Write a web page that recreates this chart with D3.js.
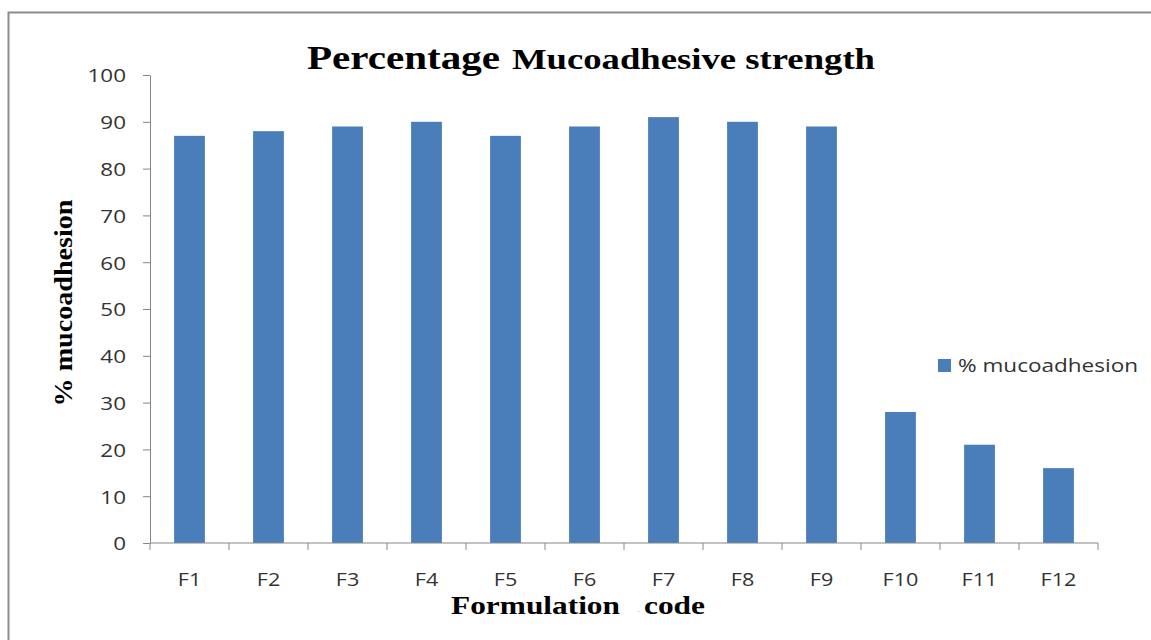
<!DOCTYPE html>
<html><head><meta charset="utf-8">
<script src="https://cdn.jsdelivr.net/npm/d3@7/dist/d3.min.js"></script>
<style>body{margin:0;background:#fff;}svg{display:block;}</style>
</head><body>
<svg id="c" width="1151" height="640"></svg>
<script>
const categories = ["F1","F2","F3","F4","F5","F6","F7","F8","F9","F10","F11","F12"];
const values = [87, 88, 89, 90, 87, 89, 91, 90, 89, 28, 21, 16];
const yTicks = [0,10,20,30,40,50,60,70,80,90,100];
const seriesName = "% mucoadhesion";

const svg = d3.select("#c");
const m = {left:150, right:1098, top:75, bottom:543};
const sans = "'Open Sans', Lato, sans-serif";
const serif = "'Liberation Serif', 'Times New Roman', serif";

function stretch(sel, f) {
  sel.each(function(){
    const L = this.getComputedTextLength();
    d3.select(this).attr("textLength", L*f).attr("lengthAdjust","spacingAndGlyphs");
  });
}

svg.append("rect").attr("x",8.5).attr("y",12.5).attr("width",1200).attr("height",700)
  .attr("fill","#fff").attr("stroke","#8c8c8c").attr("stroke-width",2);

const x = d3.scaleBand().domain(categories).range([m.left,m.right]).paddingInner(0.61).paddingOuter(0.305);
const y = d3.scaleLinear().domain([0,100]).range([m.bottom,m.top]);

svg.selectAll("rect.bar").data(values).join("rect").attr("class","bar")
  .attr("x",(d,i)=>x(categories[i])).attr("width",x.bandwidth())
  .attr("y",d=>y(d)).attr("height",d=>y(0)-y(d)).attr("fill","#4a7ebb");

const yAxis = svg.append("g").attr("transform",`translate(${m.left},0)`)
  .call(d3.axisLeft(y).tickValues(yTicks).tickSize(7).tickPadding(8).tickSizeOuter(0));
const xb = d3.scaleLinear().domain([0,categories.length]).range([m.left,m.right]);
const xAxis = svg.append("g").attr("transform",`translate(0,${m.bottom})`);
xAxis.append("line").attr("x1",m.left).attr("x2",m.right).attr("stroke","#868686");
xAxis.selectAll("line.t").data(d3.range(categories.length+1)).join("line").attr("class","t")
  .attr("x1",d=>xb(d)).attr("x2",d=>xb(d)).attr("y1",0).attr("y2",7).attr("stroke","#868686");
const xl = xAxis.selectAll("text").data(categories).join("text")
  .attr("x",d=>x(d)+x.bandwidth()/2).attr("y",43).attr("text-anchor","middle")
  .attr("font-family",sans).attr("font-size",18).attr("fill","#333")
  .text(d=>d);
stretch(xl, 1.2);

yAxis.select(".domain").attr("stroke","#868686");
yAxis.selectAll(".tick line").attr("stroke","#868686");
const yl = yAxis.selectAll(".tick text").attr("font-family",sans).attr("font-size",19).attr("fill","#333").attr("x",-24).attr("dy","0.36em");
stretch(yl, 1.18);

const t = svg.append("text").attr("y",69)
  .attr("font-family",serif).attr("font-weight","bold").attr("fill","#000");
t.append("tspan").attr("x",307).attr("font-size",34).attr("textLength",193).attr("lengthAdjust","spacingAndGlyphs").text("Percentage");
t.append("tspan").attr("x",512).attr("font-size",29).attr("textLength",363).attr("lengthAdjust","spacingAndGlyphs").text("Mucoadhesive strength");

svg.append("text").attr("transform","translate(72,303) rotate(-90)").attr("text-anchor","middle")
  .attr("font-family",serif).attr("font-weight","bold")
  .attr("font-size",26).attr("fill","#000").attr("textLength",207).attr("lengthAdjust","spacingAndGlyphs").text("% mucoadhesion");

const xt = svg.append("text").attr("y",614).attr("font-family",serif).attr("font-weight","bold").attr("font-size",26).attr("fill","#000");
xt.append("tspan").attr("x",451).attr("textLength",169).attr("lengthAdjust","spacingAndGlyphs").text("Formulation");
xt.append("tspan").attr("x",638).attr("y",612).attr("font-size",6).attr("fill","#999").text(".");
xt.append("tspan").attr("x",644).attr("y",614).attr("textLength",61).attr("lengthAdjust","spacingAndGlyphs").text("code");

svg.append("rect").attr("x",938).attr("y",359).attr("width",13).attr("height",13).attr("fill","#4a7ebb");
svg.append("text").attr("x",958).attr("y",372).attr("font-family",sans)
  .attr("font-size",19).attr("fill","#333").attr("textLength",180).attr("lengthAdjust","spacingAndGlyphs").text(seriesName);
</script>
</body></html>
